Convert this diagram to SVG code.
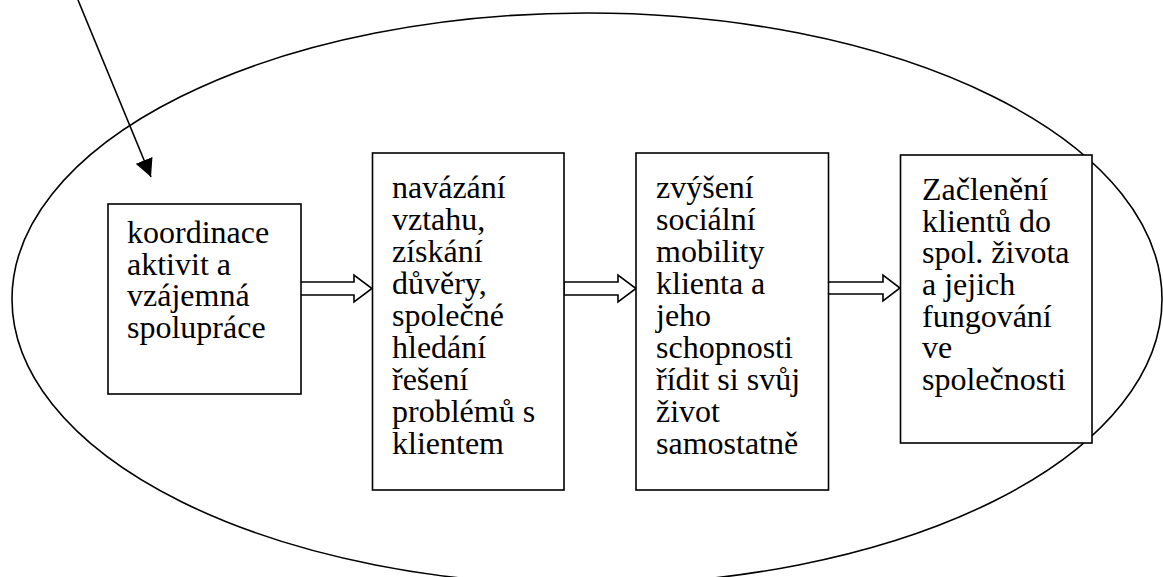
<svg xmlns="http://www.w3.org/2000/svg" width="1163" height="577" viewBox="0 0 1163 577" xml:lang="cs">
<style>
.ell{fill:none;stroke:#000;stroke-width:1.6}
.box{fill:#ffffff;stroke:#000;stroke-width:1.6}
.blk{fill:#ffffff;stroke:#000;stroke-width:1.6}
.ln{fill:none;stroke:#000;stroke-width:1.6}
</style>
<defs>
<marker id="ah" markerUnits="userSpaceOnUse" viewBox="0 0 18 18" refX="18" refY="9" markerWidth="18" markerHeight="18" orient="auto">
<path d="M0,0 L18,9 L0,18 z" fill="#000"/>
</marker>
</defs>
<rect x="0" y="0" width="1163" height="577" fill="#fff"/>
<g id="boundary">
<ellipse class="ell" cx="587" cy="299" rx="575" ry="286"/>
</g>
<g id="connectors">
<path class="blk" d="M300,282 L354,282 L354,275 L372,288.5 L354,302 L354,295 L300,295 Z"/>
<path class="blk" d="M564,282 L618,282 L618,275 L636,288.5 L618,302 L618,295 L564,295 Z"/>
<path class="blk" d="M828,282 L883,282 L883,275 L900,288 L883,301 L883,294 L828,294 Z"/>
<line class="ln" x1="78" y1="0" x2="151" y2="177" marker-end="url(#ah)"/>
</g>
<g id="node1" font-family="Liberation Serif, serif" font-size="32">
<rect class="box" x="108" y="204" width="193" height="190"/>
<text x="127" y="243" font-family="Liberation Serif, serif">koordinace</text>
<text x="127" y="275" font-family="Liberation Serif, serif">aktivit a</text>
<text x="127" y="306" font-family="Liberation Serif, serif">vzájemná</text>
<text x="127" y="338" font-family="Liberation Serif, serif">spolupráce</text>
</g>
<g id="node2" font-family="Liberation Serif, serif" font-size="32">
<rect class="box" x="372.5" y="153" width="191.5" height="337"/>
<text x="392" y="198" font-family="Liberation Serif, serif">navázání</text>
<text x="392" y="230" font-family="Liberation Serif, serif">vztahu,</text>
<text x="392" y="262" font-family="Liberation Serif, serif">získání</text>
<text x="392" y="294" font-family="Liberation Serif, serif">důvěry,</text>
<text x="392" y="326" font-family="Liberation Serif, serif">společné</text>
<text x="392" y="358" font-family="Liberation Serif, serif">hledání</text>
<text x="392" y="390" font-family="Liberation Serif, serif">řešení</text>
<text x="392" y="422" font-family="Liberation Serif, serif">problémů s</text>
<text x="392" y="454" font-family="Liberation Serif, serif">klientem</text>
</g>
<g id="node3" font-family="Liberation Serif, serif" font-size="32">
<rect class="box" x="636" y="153" width="192.5" height="337"/>
<text x="656" y="198" font-family="Liberation Serif, serif">zvýšení</text>
<text x="656" y="230" font-family="Liberation Serif, serif">sociální</text>
<text x="656" y="262" font-family="Liberation Serif, serif">mobility</text>
<text x="656" y="294" font-family="Liberation Serif, serif">klienta a</text>
<text x="656" y="326" font-family="Liberation Serif, serif">jeho</text>
<text x="656" y="358" font-family="Liberation Serif, serif">schopnosti</text>
<text x="656" y="390" font-family="Liberation Serif, serif">řídit si svůj</text>
<text x="656" y="422" font-family="Liberation Serif, serif">život</text>
<text x="656" y="454" font-family="Liberation Serif, serif">samostatně</text>
</g>
<g id="node4" font-family="Liberation Serif, serif" font-size="32">
<rect class="box" x="900.5" y="155" width="191.5" height="288"/>
<text x="922" y="200" font-family="Liberation Serif, serif">Začlenění</text>
<text x="922" y="232" font-family="Liberation Serif, serif">klientů do</text>
<text x="922" y="263" font-family="Liberation Serif, serif">spol. života</text>
<text x="922" y="295" font-family="Liberation Serif, serif">a jejich</text>
<text x="922" y="327" font-family="Liberation Serif, serif">fungování</text>
<text x="922" y="358" font-family="Liberation Serif, serif">ve</text>
<text x="922" y="390" font-family="Liberation Serif, serif">společnosti</text>
</g>
</svg>
